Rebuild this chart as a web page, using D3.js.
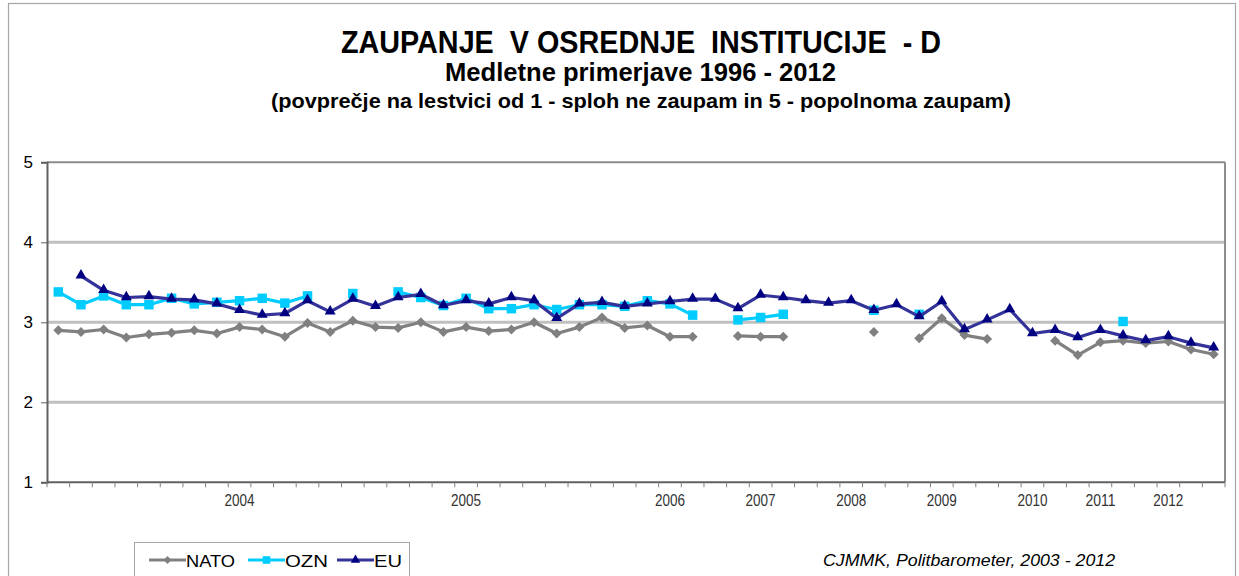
<!DOCTYPE html>
<html><head><meta charset="utf-8">
<script src="https://cdn.jsdelivr.net/npm/d3@7"></script>
<style>
body{margin:0;background:#fff}
svg{display:block}
text{font-family:"Liberation Sans",Arial,Helvetica,sans-serif}
</style>
</head><body>
<svg id="chart" width="1239" height="576"></svg>
<script>
// ---------- DATA ----------
const categories = [
  "","","","","","","","","2004","",
  "","","","","","","","","2005","",
  "","","","","","","","2006","","",
  "","2007","","","","2008","","","","2009",
  "","","","2010","","","2011","","","2012",
  "",""
];
const yTicks = [1, 2, 3, 4, 5];
const seriesNames = ["NATO", "OZN", "EU"];
const nato = [
  2.90,2.88,2.91,2.81,2.85,2.87,2.90,2.86,2.94,2.91,
  2.82,2.99,2.88,3.02,2.94,2.93,3.00,2.88,2.94,2.89,
  2.91,3.00,2.86,2.94,3.06,2.93,2.96,2.82,2.82,null,
  2.83,2.82,2.82,null,null,null,2.88,null,2.80,3.05,
  2.84,2.79,null,null,2.77,2.59,2.75,2.77,2.74,2.76,
  2.66,2.60
];
const ozn = [
  3.38,3.22,3.33,3.22,3.22,3.30,3.23,3.25,3.27,3.30,
  3.24,3.33,null,3.36,null,3.38,3.31,3.21,3.30,3.17,
  3.17,3.22,3.16,3.22,3.22,3.20,3.27,3.23,3.09,null,
  3.03,3.06,3.10,null,null,null,3.15,null,3.10,null,
  null,null,null,null,null,null,null,3.01,null,null,
  null,null
];
const eu = [
  null,3.58,3.40,3.31,3.32,3.29,3.28,3.23,3.15,3.09,
  3.11,3.27,3.13,3.29,3.20,3.31,3.35,3.21,3.27,3.23,
  3.31,3.27,3.05,3.23,3.25,3.20,3.23,3.26,3.29,3.29,
  3.17,3.34,3.31,3.27,3.24,3.27,3.15,3.22,3.07,3.26,
  2.91,3.03,3.16,2.86,2.90,2.81,2.90,2.83,2.77,2.82,
  2.74,2.68
];
const titleText = "ZAUPANJE  V OSREDNJE  INSTITUCIJE  - D";
const subtitleText = "Medletne primerjave 1996 - 2012";
const noteText = "(povprečje na lestvici od 1 - sploh ne zaupam in 5 - popolnoma zaupam)";
const sourceText = "CJMMK, Politbarometer, 2003 - 2012";

// ---------- LAYOUT ----------
const svg = d3.select("#chart");
const L = 47, R = 1225, T = 162.3, B = 482.3;

const x = d3.scaleBand().domain(d3.range(categories.length)).range([L, R]).paddingInner(0).paddingOuter(0);
const cx = i => x(i) + x.bandwidth() / 2;
const y = d3.scaleLinear().domain([1, 5]).range([B, T]);

// outer chart border
svg.append("rect").attr("x", 8.5).attr("y", 3.5).attr("width", 1227).attr("height", 600)
  .attr("fill", "none").attr("stroke", "#a6a6a6").attr("stroke-width", 1.2);

// titles
function fitText(sel, len) { sel.attr("textLength", len).attr("lengthAdjust", "spacingAndGlyphs").style("white-space", "pre"); return sel; }
fitText(svg.append("text").attr("x", 641).attr("y", 53).attr("text-anchor", "middle")
  .attr("font-size", 32).attr("font-weight", "bold").attr("fill", "#000").text(titleText), 600);
fitText(svg.append("text").attr("x", 640.5).attr("y", 81).attr("text-anchor", "middle")
  .attr("font-size", 25).attr("font-weight", "bold").attr("fill", "#000").text(subtitleText), 391);
fitText(svg.append("text").attr("x", 641).attr("y", 108).attr("text-anchor", "middle")
  .attr("font-size", 21).attr("font-weight", "bold").attr("fill", "#000").text(noteText), 740);

// gridlines
svg.append("g").selectAll("line").data(yTicks.filter(d => d > 1 && d < 5)).join("line")
  .attr("x1", L).attr("x2", R).attr("y1", d => y(d)).attr("y2", d => y(d))
  .attr("stroke", "#c0c0c0").attr("stroke-width", 3);

// plot border top/right
svg.append("line").attr("x1", L).attr("x2", R).attr("y1", y(5)).attr("y2", y(5))
  .attr("stroke", "#8c8c8c").attr("stroke-width", 2);
svg.append("line").attr("x1", R).attr("x2", R).attr("y1", y(5)).attr("y2", y(1))
  .attr("stroke", "#8c8c8c").attr("stroke-width", 2);

// y axis
const yAxis = svg.append("g").attr("transform", `translate(${L},0)`)
  .call(d3.axisLeft(y).tickValues(yTicks).tickFormat(d3.format("d")).tickSize(6).tickPadding(8));
yAxis.attr("font-size", 17);
yAxis.select(".domain").attr("stroke", "#606060").attr("stroke-width", 2);
yAxis.selectAll(".tick line").attr("stroke", "#606060").attr("stroke-width", 1);
yAxis.selectAll(".tick text").attr("font-size", 17).attr("fill", "#000")
  .attr("font-family", "Liberation Sans, Arial, sans-serif");

// x axis
const xAxisG = svg.append("g");
xAxisG.append("line").attr("x1", L).attr("x2", R).attr("y1", B).attr("y2", B)
  .attr("stroke", "#606060").attr("stroke-width", 2);
const boundaries = d3.range(categories.length + 1).map(i => i < categories.length ? x(i) : x.range()[1]);
xAxisG.selectAll("line.tk").data(boundaries).join("line").attr("class", "tk")
  .attr("x1", d => d).attr("x2", d => d).attr("y1", B).attr("y2", B + 5)
  .attr("stroke", "#808080").attr("stroke-width", 1);
xAxisG.selectAll("text").data(categories.map((c, i) => ({c, i})).filter(d => d.c !== "")).join("text")
  .attr("x", d => cx(d.i)).attr("y", 506).attr("text-anchor", "middle")
  .attr("font-size", 16).attr("fill", "#333")
  .attr("textLength", 30).attr("lengthAdjust", "spacingAndGlyphs")
  .text(d => d.c);

// series
const styles = [
  {name: seriesNames[0], data: nato, line: "#808080", fill: "#808080", shape: "diamond"},
  {name: seriesNames[1], data: ozn, line: "#00ccff", fill: "#00ccff", shape: "square"},
  {name: seriesNames[2], data: eu, line: "#333399", fill: "#000080", shape: "triangle"}
];
const symbolPath = {
  diamond: d3.symbol().type(d3.symbolSquare).size(50)(),
  square: d3.symbol().type(d3.symbolSquare).size(90)(),
  triangle: d3.symbol().type(d3.symbolTriangle).size(52)()
};
const lineGen = d3.line().defined(d => d != null).x((d, i) => cx(i)).y(d => y(d));

styles.forEach(s => {
  const g = svg.append("g");
  g.append("path").datum(s.data).attr("d", lineGen)
    .attr("fill", "none").attr("stroke", s.line).attr("stroke-width", 3.2).attr("stroke-linejoin", "round");
  g.selectAll("path.m").data(s.data.map((v, i) => ({v, i})).filter(d => d.v != null)).join("path")
    .attr("class", "m").attr("d", symbolPath[s.shape]).attr("fill", s.fill)
    .attr("transform", d => `translate(${cx(d.i)},${y(d.v)})` + (s.shape === "diamond" ? " rotate(45)" : "") + (s.shape === "triangle" ? " translate(0,-0.5)" : ""));
});

// legend
svg.append("rect").attr("x", 134.5).attr("y", 542.5).attr("width", 275).attr("height", 60)
  .attr("fill", "#fff").attr("stroke", "#a6a6a6").attr("stroke-width", 1);
const legX = [149, 248, 337];
const legW = [49, 43, 28];
styles.forEach((s, k) => {
  const g = svg.append("g").attr("transform", `translate(${legX[k]},560)`);
  g.append("line").attr("x1", 0).attr("x2", 37).attr("y1", 0).attr("y2", 0)
    .attr("stroke", s.line).attr("stroke-width", 3.2);
  g.append("path").attr("d", symbolPath[s.shape]).attr("fill", s.fill)
    .attr("transform", `translate(18.5,0)` + (s.shape === "diamond" ? " rotate(45) scale(0.8)" : "") + (s.shape === "triangle" ? " scale(0.85)" : s.shape === "square" ? " scale(0.8)" : ""));
  g.append("text").attr("x", 37).attr("y", 6.5).attr("font-size", 17).attr("fill", "#000")
    .attr("textLength", legW[k]).attr("lengthAdjust", "spacingAndGlyphs").text(s.name);
});

// source
svg.append("text").attr("x", 823).attr("y", 566).attr("font-size", 16).attr("font-style", "italic")
  .attr("fill", "#000").attr("textLength", 292).attr("lengthAdjust", "spacingAndGlyphs").text(sourceText);
</script>
</body></html>
